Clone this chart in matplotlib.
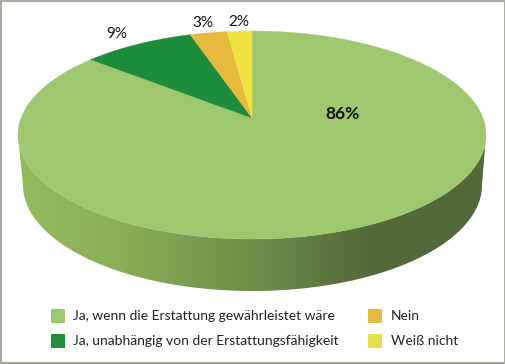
import numpy as np
import matplotlib
matplotlib.use('Agg')
import matplotlib.pyplot as plt
from matplotlib.colors import LinearSegmentedColormap
from matplotlib.patches import Polygon, Rectangle

labels = ['Ja, wenn die Erstattung gewährleistet wäre',
          'Ja, unabhängig von der Erstattungsfähigkeit',
          'Nein',
          'Weiß nicht']
values = [86, 9, 3, 2]
value_labels = ['86%', '9%', '3%', '2%']
colors = ['#9fc76f', '#1d8c3b', '#e6b93f', '#efe43f']
legend_colors = ['#9cc870', '#1f8f3f', '#e3bb42', '#e5e04e']

plt.rcParams['font.family'] = ['Lato', 'DejaVu Sans']

# pie is a circle seen in perspective, so the apex sits above the ellipse centre
APEX_X, APEX_Y = 252.0, 118.0
PERSP_K = 0.1635
PERSP_A = 230.9
PERSP_B = 101.2


def project(angle):
    """Angle in radians, clockwise from 12 o'clock, to pixel position."""
    u = np.sin(angle)
    v = np.cos(angle)
    d = 1 + PERSP_K * v
    return APEX_X + PERSP_A * u / d, APEX_Y - PERSP_B * v / d


fig = plt.figure(figsize=(5.06, 3.64), dpi=100)
ax = fig.add_axes([0, 0, 1, 1])
ax.set_xlim(0, 506)
ax.set_ylim(364, 0)
ax.axis('off')

# side wall, gradient clipped to the band between the two front edges
t = np.linspace(-np.pi / 2, np.pi / 2, 200)
top_x = 252 + 234 * np.sin(t)
top_y = 135 + 104 * np.cos(t)
bot_x = 252.5 + 229.5 * np.sin(t)
bot_y = 185 + 106 * np.cos(t)
wall = Polygon(np.vstack([np.column_stack([top_x, top_y]),
                          np.column_stack([bot_x, bot_y])[::-1]]),
               closed=True, facecolor='none', edgecolor='none')
ax.add_patch(wall)
side_cmap = LinearSegmentedColormap.from_list('side', [
    (0.0, '#94bb5e'), (0.22, '#8aae57'), (0.5, '#6f8e49'),
    (0.66, '#5d773f'), (0.75, '#53693a'), (1.0, '#53693a')])
grad = ax.imshow(np.linspace(0, 1, 256).reshape(1, -1), cmap=side_cmap,
                 extent=[18, 486, 295, 130], aspect='auto', zorder=1)
grad.set_clip_path(wall)
ax.set_xlim(0, 506)
ax.set_ylim(364, 0)

# top face
edges = np.concatenate([[0], np.cumsum(values)]) / sum(values) * 2 * np.pi
for i in range(len(values)):
    a = np.linspace(edges[i], edges[i + 1], 240)
    x, y = project(a)
    ax.fill(np.r_[APEX_X, x], np.r_[APEX_Y, y], color=colors[i], lw=0.3, zorder=2)

# value labels
ax.text(343, 114, value_labels[0], fontsize=12.5, fontweight='bold', color='#111111',
        ha='center', va='center', zorder=3)
ax.text(117, 34, value_labels[1], fontsize=11, color='#111111', ha='center', va='center')
ax.text(203, 23, value_labels[2], fontsize=11, color='#111111', ha='center', va='center')
ax.text(239, 22, value_labels[3], fontsize=11, color='#111111', ha='center', va='center')

# legend
for i, (sx, tx, sy) in enumerate([(51, 73, 309), (51, 73, 334), (368, 391, 309), (368, 391, 334)]):
    ax.add_patch(Rectangle((sx, sy), 14, 14, facecolor=legend_colors[i], edgecolor='none'))
    ax.text(tx, sy + 7, labels[i], fontsize=10, color='#222222', ha='left', va='center')

# grey frame round the picture
ax.add_patch(Rectangle((1, 1), 504, 362, facecolor='none', edgecolor='#a9aca0', lw=1.5, zorder=5))

fig.savefig('out.png', dpi=100)
